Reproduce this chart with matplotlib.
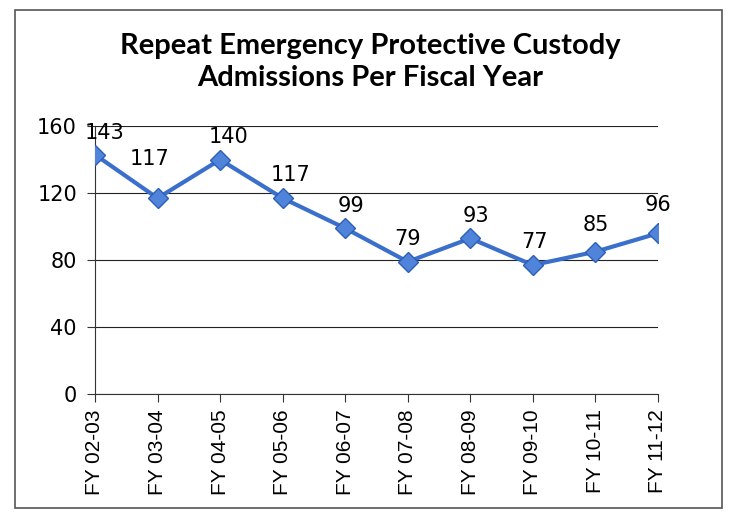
import matplotlib
matplotlib.use('Agg')
import matplotlib.pyplot as plt
from matplotlib.patches import Rectangle

# chart data
years = ['FY 02-03', 'FY 03-04', 'FY 04-05', 'FY 05-06', 'FY 06-07',
         'FY 07-08', 'FY 08-09', 'FY 09-10', 'FY 10-11', 'FY 11-12']
admissions = [143, 117, 140, 117, 99, 79, 93, 77, 85, 96]
yticks = [0, 40, 80, 120, 160]

# label offsets in points (where Excel put the data labels)
label_dx = [7, -6, 6, 6, 4, 0, 4, 1, 0, 0]
label_dy = [11, 24, 12, 12, 12, 12, 12, 12, 15, 16]

line_color = '#3A6FCB'

fig = plt.figure(figsize=(7.33, 5.21), dpi=100)
ax = fig.add_axes([0.1296, 0.2438, 0.768, 0.514])

x = list(range(len(years)))
ax.plot(x, admissions, color=line_color, lw=3, marker='D', markersize=10,
        markerfacecolor='#4F84DA', markeredgecolor='#2E5FB8', zorder=3)

for xi, v, dx, dy in zip(x, admissions, label_dx, label_dy):
    ax.annotate(str(v), (xi, v), xytext=(dx, dy), textcoords='offset points',
                ha='center', va='baseline', fontsize=15, family='DejaVu Sans')

ax.set_xlim(0, len(years) - 1)
ax.set_ylim(0, 160)
ax.set_yticks(yticks)
ax.set_xticks(x)
ax.set_xticklabels(years, rotation=90, fontsize=15, family='Liberation Sans')
for lab in ax.get_yticklabels():
    lab.set_fontsize(15)
    lab.set_family('DejaVu Sans')

ax.grid(axis='y', color='#222222', lw=0.8)
ax.set_axisbelow(True)
for s in ['top', 'right']:
    ax.spines[s].set_visible(False)
ax.spines['left'].set_color('#333333')
ax.spines['bottom'].set_color('#333333')
ax.tick_params(axis='both', direction='out', length=6, width=0.8, color='#333333')
ax.tick_params(axis='x', pad=5)
ax.tick_params(axis='y', pad=7)

fig.text(0.505, 0.881, 'Repeat Emergency Protective Custody\nAdmissions Per Fiscal Year',
         ha='center', va='center', fontsize=21, fontweight='bold', family='Lato',
         linespacing=1.27)

# outer chart border
fig.patches.append(Rectangle((15 / 733, 1 - 508 / 521), 707 / 733, 498 / 521,
                             transform=fig.transFigure, fill=False,
                             edgecolor='#555555', lw=1.2))

fig.savefig('out.png', dpi=100)
